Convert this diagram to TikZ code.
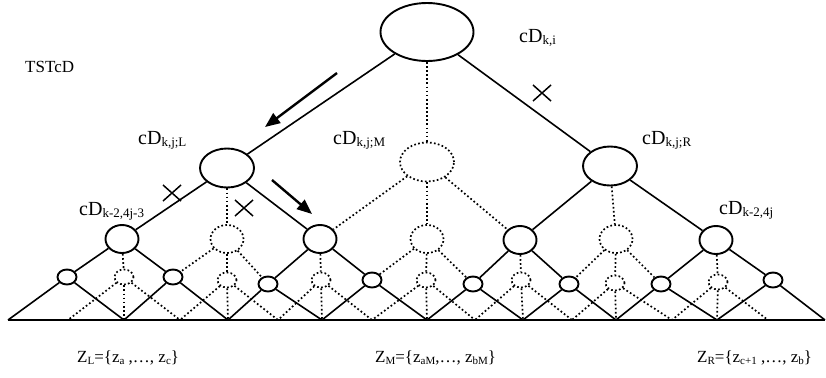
\documentclass[tikz,border=0pt]{standalone}
\usepackage{fontspec}
\setmainfont{Liberation Serif}
\usetikzlibrary{arrows.meta, shapes.geometric, positioning}

\newcommand{\dn}[2][13]{\raisebox{-2.5bp}{\fontsize{#1bp}{#1bp}\selectfont #2}}

\begin{document}
\begin{tikzpicture}[x=1bp,y=-1bp,>={Triangle[length=15bp,width=12bp]},
        every node/.style={inner sep=0pt},
        blob/.style={ellipse,draw,line width=1.9bp},
        ghost/.style={blob,line width=1.7bp,dash pattern=on 1.7bp off 2.3bp},
        big/.style={minimum width=54bp,minimum height=39bp},
        mid/.style={minimum width=33bp,minimum height=28bp},
        tiny/.style={minimum width=19bp,minimum height=15bp},
        link/.style={line width=1.6bp},
        dlink/.style={line width=1.7bp,dash pattern=on 1.7bp off 2.4bp},
        walk/.style={->,line width=2.4bp},
        xmark/.pic={\draw[line width=1.5bp] (-9,-8) -- (9,8) (-9,8) -- (9,-8);},
        lab/.style={anchor=base west,font=\fontsize{20bp}{24bp}\selectfont},
        setlab/.style={anchor=base west,font=\fontsize{17bp}{20bp}\selectfont}]

        \useasboundingbox (0,0) rectangle (826,377);

        % top node and its three children
        \node[blob,minimum width=93bp,minimum height=58bp] (kj) at (427,32) {};
        \node[blob,big] (kjL) at (227,168) {};
        \node[ghost,big] (kjM) at (427,162) {};
        \node[blob,big] (kjR) at (610,166) {};

        % middle row
        \node[blob,mid] (c1) at (122,239) {};
        \node[ghost,mid] (c2) at (227,239) {};
        \node[blob,mid] (c3) at (320,239) {};
        \node[ghost,mid] (c4) at (427,239) {};
        \node[blob,mid] (c5) at (520,240) {};
        \node[ghost,mid] (c6) at (616,239) {};
        \node[blob,mid] (c7) at (716,240) {};

        % small row
        \node[blob,tiny] (e1) at (67,277) {};
        \node[blob,tiny] (e2) at (173,277) {};
        \node[blob,tiny] (e3) at (268,284) {};
        \node[blob,tiny] (e4) at (372,280) {};
        \node[blob,tiny] (e5) at (473,284) {};
        \node[blob,tiny] (e6) at (569,284) {};
        \node[blob,tiny] (e7) at (661,284) {};
        \node[blob,tiny] (e8) at (773,280) {};
        \node[ghost,tiny] (f1) at (124,277) {};
        \node[ghost,tiny] (f2) at (227,280) {};
        \node[ghost,tiny] (f3) at (321,280) {};
        \node[ghost,tiny] (f4) at (426,280) {};
        \node[ghost,tiny] (f5) at (521,280) {};
        \node[ghost,tiny] (f6) at (615,283) {};
        \node[ghost,tiny] (f7) at (718,282) {};

        % bottom line
        \coordinate (b0) at (8,320);   \coordinate (b1) at (124,320);
        \coordinate (b2) at (228,320); \coordinate (b3) at (322,320);
        \coordinate (b4) at (427,320); \coordinate (b5) at (523,320);
        \coordinate (b6) at (616,320); \coordinate (b7) at (717,320);
        \coordinate (b8) at (825,320);
        \coordinate (m1) at (68,320);  \coordinate (m2) at (180,320);
        \coordinate (m3) at (278,320); \coordinate (m4) at (372,320);
        \coordinate (m5) at (475,320); \coordinate (m6) at (572,320);
        \coordinate (m7) at (672,320); \coordinate (m8) at (768,320);

        \draw[link] (b0) -- (b8);

        \path[link] (kj) edge (kjL) edge (kjR)
            (kjL) edge (c1) edge (c3)
            (kjR) edge (c5) edge (c7)
            (c1) edge (e1) edge (e2)
            (c3) edge (e3) edge (e4)
            (c5) edge (e5) edge (e6)
            (c7) edge (e7) edge (e8)
            (e1) edge (b0) edge (b1)
            (e2) edge (b1) edge (b2)
            (e3) edge (b2) edge (b3)
            (e4) edge (b3) edge (b4)
            (e5) edge (b4) edge (b5)
            (e6) edge (b5) edge (b6)
            (e7) edge (b6) edge (b7)
            (e8) edge (b7) edge (b8);

        \path[dlink] (kj) edge (kjM)
            (kjL) edge (c2)
            (kjM) edge (c3) edge (c4) edge (c5)
            (kjR) edge (c6)
            (c2) edge (e2) edge (e3)
            (c4) edge (e4) edge (e5)
            (c6) edge (e6) edge (e7)
            (c1) edge (f1) (c2) edge (f2) (c3) edge (f3) (c4) edge (f4)
            (c5) edge (f5) (c6) edge (f6) (c7) edge (f7)
            (f1) edge (b1) edge (m1) edge (m2)
            (f2) edge (b2) edge (m2) edge (m3)
            (f3) edge (b3) edge (m3) edge (m4)
            (f4) edge (b4) edge (m4) edge (m5)
            (f5) edge (b5) edge (m5) edge (m6)
            (f6) edge (b6) edge (m6) edge (m7)
            (f7) edge (b7) edge (m7) edge (m8);

        % search arrows and cut marks
        \coordinate (w1a) at (337,73);  \coordinate (w1b) at (265,127);
        \coordinate (w2a) at (272,180); \coordinate (w2b) at (312,214);
        \draw[walk] (w1a) -- (w1b);
        \draw[walk] (w2a) -- (w2b);
        \pic at (542,93) {xmark};
        \pic at (172,193) {xmark};
        \pic at (244,208) {xmark};

        % labels
        \node[setlab] (name) at (25,72) {TSTcD};
        \node[lab] (lkj) at (519,42) {cD\dn{k,i}};
        \node[lab] (lkjL) at (138,144) {cD\dn{k,j;L}};
        \node[lab] (lkjM) at (333,144) {cD\dn{k,j;M}};
        \node[lab] (lkjR) at (642,144) {cD\dn{k,j;R}};
        \node[lab] (lc1) at (79,215) {cD\dn{k-2,4j-3}};
        \node[lab] (lc7) at (719,214) {cD\dn{k-2,4j}};
        \node[setlab] (zl) at (77,362) {Z\dn[11]{L}=\{z\dn[11]{a} ,\dots, z\dn[11]{c}\}};
        \node[setlab] (zm) at (375,362) {Z\dn[11]{M}=\{z\dn[11]{aM},\dots, z\dn[11]{bM}\}};
        \node[setlab] (zr) at (697,362) {Z\dn[11]{R}=\{z\dn[11]{c+1} ,\dots, z\dn[11]{b}\}};
    \end{tikzpicture}
\end{document}
